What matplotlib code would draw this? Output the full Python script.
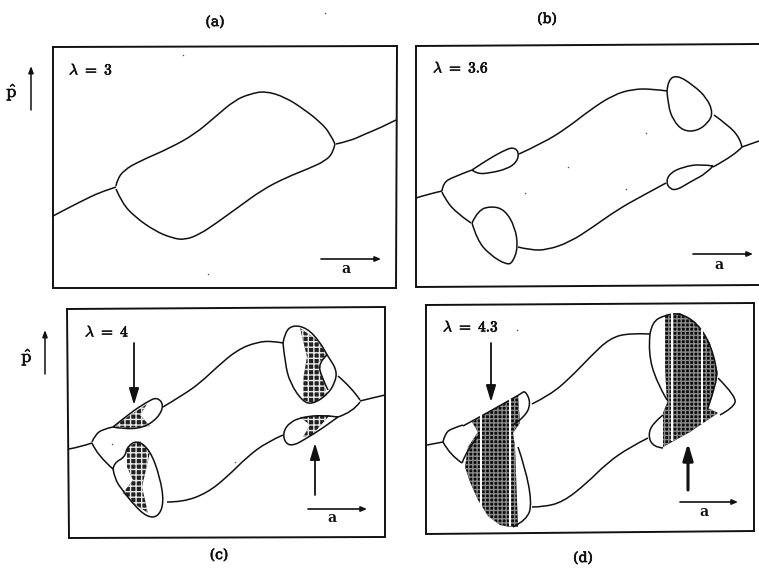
import matplotlib
matplotlib.use('Agg')
import matplotlib.pyplot as plt
import matplotlib.patheffects as pe
from matplotlib.path import Path
from matplotlib.patches import PathPatch, Polygon

plt.rcParams['mathtext.fontset'] = 'cm'

INK = '#111111'

panel_titles = ['(a)', '(b)', '(c)', '(d)']
title_xy = [(215, 22), (547, 19), (219, 555), (583, 558)]
lambda_labels = [r'$\lambda\ =\ 3$', r'$\lambda\ =\ 3.6$', r'$\lambda\ =\ 4$', r'$\lambda\ =\ 4.3$']
lambda_xy = [(69, 70), (433, 68), (85, 332), (443, 327)]

frame_a = [(53, 47), (397, 46), (396, 288), (53, 288), (53, 47)]
frame_b = [(759, 44), (416, 46), (416, 287), (759, 285)]
frame_c = [(67, 309), (385, 307), (385, 537), (69, 538), (67, 309)]
frame_d = [(426, 305), (754, 303), (754, 531), (426, 534), (426, 305)]

# panel a
a_tail_l = [(53, 216), (70, 207), (90, 197), (101, 192), (116, 187)]
a_upper = [(116, 186), (117, 180), (124, 170), (140, 161), (170, 148), (195, 134), (215, 117),
           (235, 100), (250, 94), (265, 91), (285, 97), (305, 110), (320, 122), (330, 133), (335, 144)]
a_lower = [(116, 189), (122, 203), (135, 217), (155, 231), (172, 238), (185, 240), (200, 234),
           (215, 224), (240, 206), (262, 190), (285, 178), (310, 168), (325, 161), (333, 153), (335, 144)]
a_tail_r = [(336, 144), (350, 141), (365, 134), (380, 128), (396, 120)]

# panel b
b_tail_l = [(416, 198), (425, 195), (442, 191)]
b_fork_up = [(442, 191), (443, 183), (453, 177), (472, 170)]
b_fork_dn = [(442, 192), (444, 197), (455, 212), (471, 223)]
b_lens_l = [(472, 170), (487, 160), (503, 151), (513, 147), (519, 152), (517, 162), (507, 169),
            (490, 173), (477, 174), (472, 170)]
b_upper = [(519, 154), (543, 143), (567, 128), (590, 110), (613, 95), (633, 89), (653, 89), (667, 91)]
b_blob_tr = [(667, 91), (668, 80), (677, 75), (693, 85), (707, 98), (713, 113), (708, 123), (697, 131),
             (683, 131), (673, 120), (668, 105), (667, 91)]
b_right_up = [(714, 115), (728, 125), (740, 138), (742, 147)]
b_tail_r = [(742, 147), (759, 141)]
b_right_dn = [(742, 147), (735, 155), (713, 167)]
b_lens_r = [(713, 166), (700, 164), (683, 167), (670, 173), (666, 182), (670, 189), (677, 190),
            (690, 182), (707, 173), (713, 166)]
b_lower = [(666, 183), (640, 197), (617, 210), (593, 227), (570, 242), (547, 250), (530, 250), (518, 247)]
b_blob_bl = [(472, 223), (478, 210), (492, 206), (505, 210), (515, 227), (518, 247), (513, 262),
             (507, 265), (490, 255), (477, 240), (472, 223)]

# panel c
c_tail_l = [(69, 449), (80, 447), (92, 443)]
c_fork_up = [(92, 442), (95, 435), (103, 429), (113, 427)]
c_fork_dn = [(92, 443), (97, 455), (113, 469)]
c_lens_l = [(113, 427), (130, 413), (147, 402), (157, 397), (164, 405), (158, 418), (143, 428),
            (123, 429), (113, 427)]
c_upper = [(163, 407), (183, 395), (200, 383), (217, 367), (237, 350), (257, 342), (273, 341), (283, 343)]
c_blob_tr = [(283, 343), (285, 332), (293, 325), (307, 328), (320, 342), (327, 355), (337, 370),
             (335, 383), (327, 395), (313, 404), (303, 402), (290, 383), (285, 363), (283, 343)]
c_inner_tr = [(327, 355), (318, 363), (322, 378), (328, 390)]
c_right_up = [(338, 376), (352, 388), (360, 400)]
c_tail_r = [(360, 401), (372, 398), (385, 395)]
c_right_dn = [(360, 402), (353, 412), (338, 417)]
c_lens_r = [(338, 417), (323, 415), (303, 417), (290, 422), (283, 432), (285, 443), (293, 446),
            (307, 438), (323, 428), (338, 417)]
c_lower = [(283, 435), (267, 442), (247, 457), (227, 477), (207, 493), (183, 502), (167, 502)]
c_blob_bl = [(113, 469), (114, 463), (125, 457), (127, 447), (137, 440), (150, 450), (160, 477), (164, 503),
             (158, 517), (147, 517), (134, 505), (124, 492), (115, 480), (113, 469)]
c_dark = [
    [(114, 426), (147, 404), (140, 415), (150, 426), (128, 428)],
    [(300, 328), (317, 340), (327, 355), (318, 363), (323, 380), (327, 395), (313, 403), (303, 400),
     (303, 380), (307, 357)],
    [(300, 417), (330, 415), (312, 435), (303, 437), (310, 425)],
    [(127, 447), (140, 441), (150, 452), (142, 487), (148, 513), (133, 503), (123, 493), (133, 480), (127, 467)],
]

# panel d
d_tail_l = [(427, 445), (443, 442)]
d_fork_up = [(443, 442), (445, 433), (453, 428), (463, 425)]
d_fork_dn = [(443, 442), (450, 455), (462, 463)]
d_lens_l = [(463, 426), (520, 395), (525, 390), (531, 403), (525, 417), (513, 425)]
d_upper = [(532, 404), (550, 395), (570, 378), (590, 357), (610, 338), (630, 333), (650, 334)]
d_blob_tr = [(650, 334), (652, 322), (665, 315), (680, 313), (697, 323), (710, 343), (718, 373),
             (713, 393), (708, 408)]
d_blob_tr_l = [(650, 334), (648, 353), (657, 383), (667, 400)]
d_right = [(718, 378), (737, 397), (733, 408), (720, 415)]
d_lens_r = [(663, 415), (653, 423), (648, 435), (653, 447), (663, 448)]
d_lower = [(648, 438), (630, 447), (607, 463), (587, 483), (563, 502), (543, 507), (532, 507)]
d_blob_bl = [(518, 447), (525, 467), (532, 503), (527, 520), (513, 527)]
d_inner_bl = [(462, 463), (468, 447), (482, 432)]
d_dark = [
    [(472, 422), (518, 395), (520, 423), (513, 433), (515, 447), (518, 527), (510, 527), (500, 525),
     (488, 516), (478, 500), (470, 482), (465, 467), (468, 447), (478, 432)],
    [(665, 315), (680, 313), (695, 322), (710, 343), (718, 373), (712, 397), (708, 408), (718, 413),
     (690, 432), (663, 447), (663, 413), (667, 403), (665, 367)],
]
d_stripes = [
    [(481, 415), (481, 507)],
    [(510, 400), (510, 525)],
    [(672, 313), (672, 440)],
    [(702, 330), (702, 423)],
]

# arrows: tail then head, with label positions
a_arrows = [[(321, 259), (381, 259)], [(693, 254), (753, 254)], [(308, 509), (367, 509)], [(680, 502), (738, 502)]]
a_label_xy = [(346, 269), (719, 265), (332, 518), (704, 512)]
p_arrows = [[(31, 110), (31, 66)], [(45, 374), (45, 330)]]
p_label_xy = [(12, 92), (27, 357)]
big_arrows = [[(134, 343), (134, 405), 1.3], [(315, 495), (315, 443), 1.3],
              [(491, 343), (491, 402), 1.3], [(688, 490), (688, 443), 2.2]]

# dust marks of the scan
speck_x = [325, 183, 208, 525, 568, 646, 626, 112, 235, 517]
speck_y = [13, 55, 274, 193, 167, 133, 189, 444, 462, 330]

curves = [
    a_tail_l, a_upper, a_lower, a_tail_r,
    b_tail_l, b_fork_up, b_fork_dn, b_lens_l, b_upper, b_blob_tr, b_right_up, b_tail_r, b_right_dn,
    b_lens_r, b_lower, b_blob_bl,
    c_tail_l, c_fork_up, c_fork_dn, c_lens_l, c_upper, c_blob_tr, c_inner_tr, c_right_up, c_tail_r,
    c_right_dn, c_lens_r, c_lower, c_blob_bl,
    d_tail_l, d_fork_up, d_fork_dn, d_lens_l, d_upper, d_blob_tr, d_blob_tr_l, d_right, d_lens_r,
    d_lower, d_blob_bl, d_inner_bl,
]


def smooth_path(pts):
    # quadratic segments through midpoints, ends stay on the first and last point
    verts = [pts[0]]
    codes = [Path.MOVETO]
    for i in range(1, len(pts) - 1):
        if i == len(pts) - 2:
            end = pts[i + 1]
        else:
            end = ((pts[i][0] + pts[i + 1][0]) / 2, (pts[i][1] + pts[i + 1][1]) / 2)
        verts += [pts[i], end]
        codes += [Path.CURVE3, Path.CURVE3]
    if len(pts) == 2:
        verts.append(pts[1])
        codes.append(Path.LINETO)
    return Path(verts, codes)


fig = plt.figure(figsize=(7.59, 5.72), dpi=100)
ax = fig.add_axes([0, 0, 1, 1])
ax.set_xlim(0, 759)
ax.set_ylim(572, 0)
ax.axis('off')

for fr in [frame_a, frame_b, frame_c, frame_d]:
    ax.plot([p[0] for p in fr], [p[1] for p in fr], color=INK, lw=1.4, solid_joinstyle='miter')

# shaded areas go under the curves
for poly in c_dark:
    ax.add_patch(Polygon(poly, closed=True, facecolor='#222222', edgecolor='#e8e8e8', hatch='+++', lw=0))
for poly in d_dark:
    ax.add_patch(Polygon(poly, closed=True, facecolor='#0c0c0c', edgecolor='#8a8a8a', hatch='++++', lw=0))
for st in d_stripes:
    ax.plot([st[0][0], st[1][0]], [st[0][1], st[1][1]], color='white', lw=1.5)

for pts in curves:
    ax.add_patch(PathPatch(smooth_path(pts), facecolor='none', edgecolor=INK, lw=1.1))

ax.scatter(speck_x, speck_y, s=1.2, color='#555555', linewidths=0)

bold = [pe.withStroke(linewidth=0.5, foreground=INK)]
for t, (x, y) in zip(panel_titles, title_xy):
    ax.text(x, y, t, family='DejaVu Serif', fontsize=10, ha='center', va='center', color=INK, path_effects=bold)
for t, (x, y) in zip(lambda_labels, lambda_xy):
    ax.text(x, y, t, fontsize=11, ha='left', va='center', color=INK, path_effects=bold)

for (tail, head), (x, y) in zip(a_arrows, a_label_xy):
    ax.annotate('', xy=head, xytext=tail,
                arrowprops=dict(arrowstyle='-|>,head_length=0.35,head_width=0.15', color=INK, lw=1.2,
                                shrinkA=0, shrinkB=0))
    ax.text(x, y, 'a', family='DejaVu Serif', weight='bold', fontsize=10, ha='center', va='center', color=INK)
for (tail, head), (x, y) in zip(p_arrows, p_label_xy):
    ax.annotate('', xy=head, xytext=tail,
                arrowprops=dict(arrowstyle='-|>,head_length=0.4,head_width=0.15', color=INK, lw=1.1,
                                shrinkA=0, shrinkB=0))
    ax.text(x, y, r'$\hat{\mathrm{p}}$', fontsize=13, ha='center', va='center', color=INK, path_effects=bold)
for x0, y0, y1, w in [(a[0][0], a[0][1], a[1][1], a[2]) for a in big_arrows]:
    ax.annotate('', xy=(x0, y1), xytext=(x0, y0),
                arrowprops=dict(arrowstyle='-|>,head_length=1.0,head_width=0.3', color=INK, lw=w,
                                shrinkA=0, shrinkB=0))

fig.savefig('out.png', dpi=100)
